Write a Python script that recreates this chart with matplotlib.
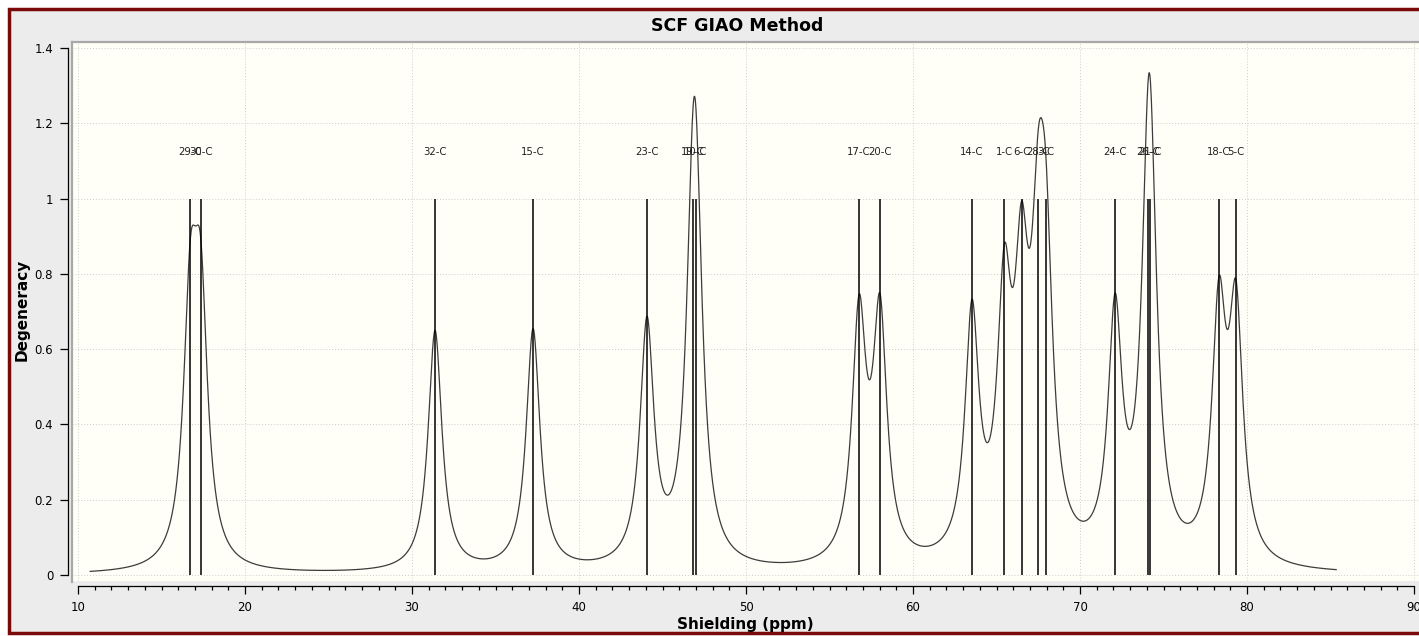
# -*- coding: utf-8 -*-

'''
NMR shielding spectrum (SCF GIAO), carbon sticks with Lorentzian broadening
'''

import numpy as np
import matplotlib
matplotlib.use('Agg')
import matplotlib.pyplot as plt
from matplotlib.lines import Line2D
from matplotlib.patches import Rectangle
from matplotlib.ticker import MultipleLocator, FormatStrFormatter

# stick positions (ppm) and atom labels
shifts = [16.73, 17.35, 31.38, 37.25, 44.07, 46.83, 47.00, 56.77, 58.02, 63.53,
          65.47, 66.50, 67.50, 67.96, 72.10, 74.10, 74.20, 78.32, 79.34]
labels = ['29-C', '30-C', '32-C', '15-C', '23-C', '19-C', '10-C', '17-C', '20-C', '14-C',
          '1-C', '6-C', '28-C', '3-C', '24-C', '26-C', '21-C', '18-C', '5-C']
degeneracy = [1] * len(shifts)

# line shape settings
PEAK_AMP = 0.64
HALF_WIDTH = 0.5
PAD = 6.0

TITLE = 'SCF GIAO Method'
XLABEL = 'Shielding (ppm)'
YLABEL = 'Degeneracy'

W, H = 1419, 636
BG = '#ECECEC'
PLOT_BG = '#FFFFF7'
FRAME = '#7A0A0A'


def fx(px):
    return px / W


def fy(py):
    return 1 - py / H


# broadened spectrum from the sticks
xs = np.linspace(min(shifts) - PAD, max(shifts) + PAD, 3000)
spec = np.zeros_like(xs)
for s, d in zip(shifts, degeneracy):
    spec += d * PEAK_AMP * HALF_WIDTH ** 2 / ((xs - s) ** 2 + HALF_WIDTH ** 2)

plt.rcParams['font.family'] = ['DejaVu Sans']

fig = plt.figure(figsize=(W / 100, H / 100), dpi=100)
fig.patch.set_facecolor('white')

# window background and dark red frame
frame = Rectangle((fx(9), fy(633)), 1.0, fy(9) - fy(633), transform=fig.transFigure,
                  facecolor=BG, edgecolor=FRAME, linewidth=2.5, zorder=-10)
fig.add_artist(frame)

# plot area: 10 -> 78 px, 90 -> 1414 px ; 0 -> 575 px, 1.4 -> 48 px
ppx = (1414 - 78) / 80.0
ppy = (575 - 48) / 1.4
left_px, right_px, top_px, bot_px = 72, 1425, 42, 581
ax = fig.add_axes([fx(left_px), fy(bot_px), fx(right_px) - fx(left_px), fy(top_px) - fy(bot_px)])
ax.set_zorder(1)
ax.set_facecolor(PLOT_BG)
ax.set_xlim(10 - (78 - left_px) / ppx, 10 + (right_px - 78) / ppx)
ax.set_ylim(-(bot_px - 575) / ppy, 1.4 + (48 - top_px) / ppy)

ax.plot(xs, spec, color='#3C3C3C', linewidth=0.9, zorder=3)
ax.vlines(shifts, 0, degeneracy, color='black', linewidth=1.1, zorder=4)
for s, lab in zip(shifts, labels):
    ax.text(s, 1.124, lab, ha='center', va='center', fontsize=7.3, color='#202020', zorder=5)

ax.set_xticks(np.arange(10, 91, 10))
ax.xaxis.set_minor_locator(MultipleLocator(1))
ax.set_yticks(np.arange(0, 1.41, 0.2))
ax.yaxis.set_major_formatter(FormatStrFormatter('%g'))
ax.grid(True, which='major', color='#CDCDCD', linestyle=(0, (1, 2)), linewidth=0.7, zorder=1)

for side in ['top', 'right']:
    ax.spines[side].set_visible(False)
ax.spines['left'].set_position(('outward', 3))
ax.spines['bottom'].set_position(('outward', 3.6))
ax.spines['left'].set_bounds(0, 1.4)
ax.spines['bottom'].set_bounds(10, 90)
ax.spines['left'].set_linewidth(0.9)
ax.spines['bottom'].set_linewidth(0.9)
ax.tick_params(axis='both', which='major', direction='out', length=5.5, width=0.9,
               labelsize=8.5, colors='black')
ax.tick_params(axis='x', which='minor', direction='out', length=3, width=0.9)
ax.tick_params(axis='x', pad=5.5)
ax.tick_params(axis='y', pad=5)

# gray border on top and left of the plot area
fig.add_artist(Line2D([fx(left_px), fx(left_px)], [fy(bot_px + 1), fy(top_px)],
                      transform=fig.transFigure, color='#A8A8A8', linewidth=1.6, zorder=2))
fig.add_artist(Line2D([fx(left_px), 1.0], [fy(top_px), fy(top_px)],
                      transform=fig.transFigure, color='#A8A8A8', linewidth=1.6, zorder=2))

fig.text(fx(737), fy(26), TITLE, ha='center', va='center', fontsize=12.5, fontweight='bold')
fig.text(fx(745), fy(624), XLABEL, ha='center', va='center', fontsize=11, fontweight='bold')
fig.text(fx(22), fy(310), YLABEL, ha='center', va='center', fontsize=11, fontweight='bold',
         rotation=90)

fig.savefig('out.png', dpi=100, facecolor=fig.get_facecolor())
